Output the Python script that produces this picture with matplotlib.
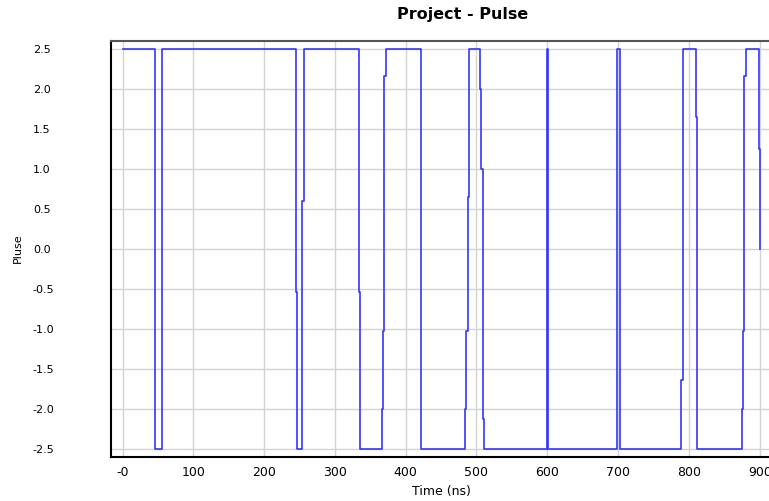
import matplotlib
matplotlib.use("Agg")
import matplotlib.pyplot as plt
from matplotlib.ticker import FixedLocator

# Pulse samples (time in ns, value), drawn as a post-step trace
times = [0, 45.5, 55.4, 244.6, 246.5, 253.5, 256.4, 334.0, 335.9, 366.1, 368.0,
         369.8, 371.7, 421.2, 483.8, 485.6, 487.6, 489.4, 505.0, 506.8, 508.7,
         510.6, 599.5, 601.5, 698.0, 702.0, 789.3, 791.2, 810.0, 811.9, 874.6,
         876.4, 878.3, 880.2, 899.0, 900.8]
values = [2.5, -2.5, 2.5, -0.54, -2.5, 0.6, 2.5, -0.54, -2.5, -2.0, -1.03,
          2.16, 2.5, -2.5, -2.0, -1.03, 0.65, 2.5, 2.0, 1.0, -2.13,
          -2.5, 2.5, -2.5, 2.5, -2.5, -1.64, 2.5, 1.65, -2.5, -2.0,
          -1.03, 2.16, 2.5, 1.25, 0.0]

xticks = [0, 100, 200, 300, 400, 500, 600, 700, 800, 900]
xticklabels = ["-0", "100", "200", "300", "400", "500", "600", "700", "800", "900"]
yticks = [2.5, 2.0, 1.5, 1.0, 0.5, 0.0, -0.5, -1.0, -1.5, -2.0, -2.5]
yticklabels = ["2.5", "2.0", "1.5", "1.0", "0.5", "0.0", "-0.5", "-1.0", "-1.5", "-2.0", "-2.5"]

W, H = 769, 501
fig = plt.figure(figsize=(W / 100, H / 100), dpi=100)
left_px, right_px, top_px, bottom_px = 110.7, 815, 41, 456.7
ax = fig.add_axes([left_px / W, 1 - bottom_px / H,
                   (right_px - left_px) / W, (bottom_px - top_px) / H])

ax.plot(times, values, drawstyle="steps-post", color="#3535ff", lw=1.2, zorder=3)

ax.set_xlim((left_px - 122.5) / 0.708, (right_px - 122.5) / 0.708)
ax.set_ylim(-2.6, 2.6)

ax.xaxis.set_major_locator(FixedLocator(xticks + [1000]))
ax.set_xticklabels(xticklabels + ["1000"], family=["Liberation Sans Narrow", "DejaVu Sans"],
                   fontsize=9)
ax.yaxis.set_major_locator(FixedLocator(yticks))
ax.set_yticklabels(yticklabels, family=["DejaVu Sans"], fontsize=8)
for lab in ax.get_yticklabels():
    lab.set_horizontalalignment("left")
ax.tick_params(axis="y", length=0, pad=56)
ax.tick_params(axis="x", length=0, pad=7)

ax.grid(True, color="#d3d3d3", lw=1)
ax.set_axisbelow(True)
for s in ["left", "bottom"]:
    ax.spines[s].set_color("black")
    ax.spines[s].set_linewidth(1.5)
ax.spines["top"].set_color("#555555")
ax.spines["top"].set_linewidth(1.5)
ax.spines["right"].set_visible(False)

fig.text(463 / W, 1 - 15 / H, "Project - Pulse", ha="center", va="center",
         fontsize=11.5, fontweight="bold",
         family=["Liberation Sans Narrow", "DejaVu Sans"])
fig.text(441 / W, 1 - 491 / H, "Time (ns)", ha="center", va="center",
         fontsize=9, family=["Liberation Sans Narrow", "DejaVu Sans"])
fig.text(18 / W, 1 - 248 / H, "Pluse", ha="center", va="center", rotation=90,
         fontsize=8, family=["DejaVu Sans"])

fig.savefig("out.png", dpi=100)
